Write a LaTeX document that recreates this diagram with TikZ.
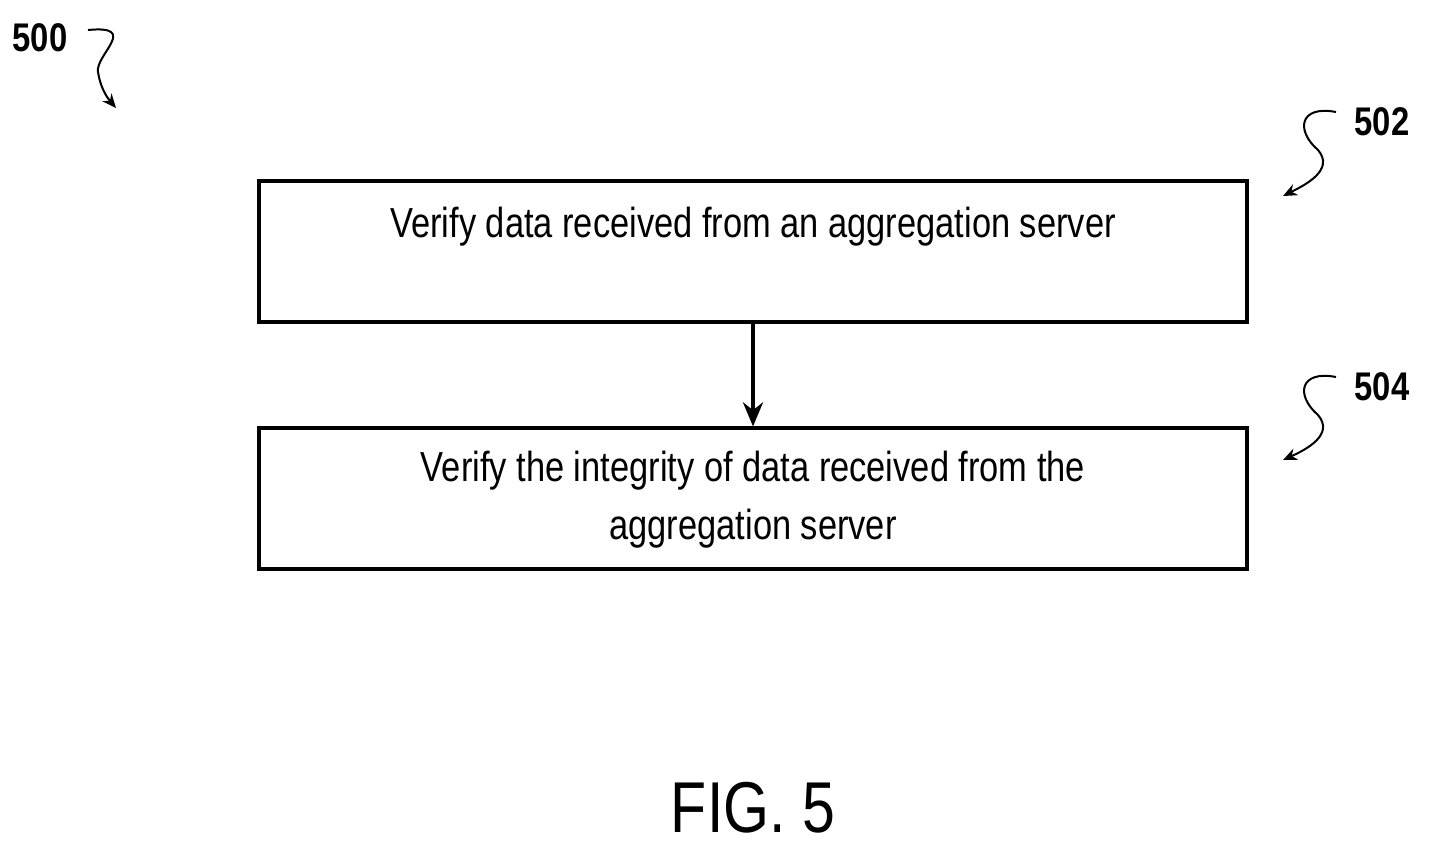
\documentclass[tikz,border=0pt]{standalone}
\usepackage{fontspec}
\setmainfont{Liberation Sans}[FakeStretch=0.82]
\usetikzlibrary{arrows.meta}
\begin{document}
\begin{tikzpicture}[x=0.5pt,y=-0.5pt,
  box/.style={draw,line width=1.6pt,minimum width=494pt,minimum height=70.5pt,inner sep=0pt},
  txt/.style={font=\fontsize{21}{29}\selectfont,align=center},
  lab/.style={font=\bfseries\fontsize{20}{24}\selectfont},
  sq/.style={line width=1pt,-{Stealth[length=7pt,width=6pt]}}]
\useasboundingbox (0,0) rectangle (1434,852);
\node[box] (b1) at (753,251.5) {};
\node[txt,anchor=north] (t1) at (753,200) {Verify data received from an aggregation server};
\node[box] (b2) at (753,498.5) {};
\node[txt] (t2) at (753,500) {Verify the integrity of data received from the\\aggregation server};
\draw[line width=2pt,-{Stealth[length=12pt,width=10pt]}] (b1.south) -- (b2.north);
\node[lab] (l500) at (40,38) {500};
\node[lab] (l502) at (1382,122) {502};
\node[lab] (l504) at (1382,387) {504};
\coordinate (a0) at (88,30);
\coordinate (a1) at (116,108);
\draw[sq] (a0) .. controls (140,25) and (95,55) .. (98,72) .. controls (100,85) and (105,95) .. (a1);
\coordinate (c0) at (1336,112);
\coordinate (c1) at (1283,196);
\draw[sq] (c0) .. controls (1300,105) and (1295,130) .. (1318,150) .. controls (1335,170) and (1305,185) .. (c1);
\coordinate (d0) at (1336,377);
\coordinate (d1) at (1283,460);
\draw[sq] (d0) .. controls (1300,370) and (1295,395) .. (1318,415) .. controls (1335,435) and (1305,450) .. (d1);
\node[font=\fontsize{36}{40}\selectfont] (fig) at (753,808) {FIG. 5};
\end{tikzpicture}
\end{document}
